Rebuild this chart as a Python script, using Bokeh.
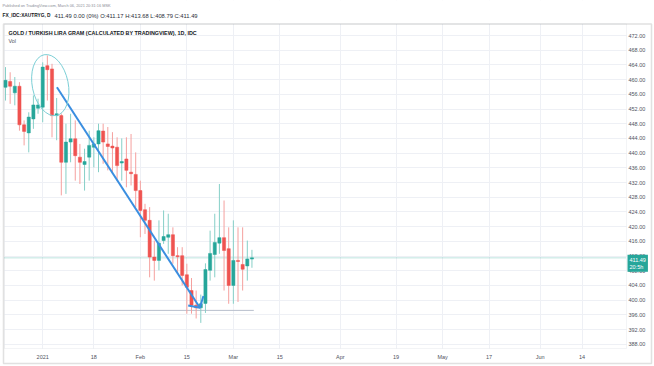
import pandas as pd
from bokeh.plotting import figure
from bokeh.models import (Range1d, FixedTicker, PrintfTickFormatter, Label,
                          ColumnDataSource, BoxAnnotation)
from bokeh.embed import file_html
from bokeh.resources import INLINE

# ---------------- data ----------------
first_date = "2020-12-22"
opens = [457.9, 459.5, 456.4, 458.2, 447.7, 445.5, 449.3, 452.2, 452.5, 463.8,
         462.9, 450.2, 450.2, 437.5, 443.0, 443.9, 438.9, 436.9, 438.9, 441.6,
         442.5, 446.0, 442.5, 441.9, 441.6, 437.3, 438.4, 434.8, 434.2, 429.8,
         424.6, 421.7, 411.7, 410.8, 416.2, 417.1, 417.8, 412.1, 412.1, 406.9,
         402.6, 398.6, 397.9, 399.1, 408.1, 412.4, 415.5, 417.0, 414.0, 404.0,
         410.8, 409.7, 409.3, 411.17]
highs = [463.4, 462.0, 460.7, 459.3, 448.9, 451.1, 455.7, 454.8, 464.7, 466.6,
         464.3, 455.0, 450.8, 448.0, 450.7, 448.9, 442.5, 441.2, 446.1, 444.3,
         448.0, 448.0, 447.1, 445.7, 444.3, 444.0, 444.3, 445.2, 440.2, 432.5,
         426.2, 425.3, 416.2, 421.7, 424.4, 423.5, 419.8, 414.4, 414.4, 409.9,
         406.0, 402.6, 401.5, 410.0, 418.9, 423.5, 431.6, 427.1, 419.8, 421.7,
         419.8, 419.8, 416.2, 413.68]
lows = [454.3, 453.4, 453.0, 446.1, 442.1, 440.2, 446.6, 450.7, 448.4, 454.3,
        444.3, 443.5, 428.5, 428.9, 437.5, 432.5, 431.6, 429.8, 432.5, 436.1,
        434.8, 437.1, 435.3, 434.4, 432.5, 432.5, 430.7, 431.2, 425.3, 417.1,
        418.0, 406.2, 405.3, 408.1, 415.3, 412.6, 409.9, 407.2, 404.0, 396.3,
        396.3, 395.0, 393.8, 396.5, 405.3, 406.2, 412.6, 402.6, 399.0, 399.0,
        399.5, 402.6, 405.3, 408.79]
closes = [459.8, 458.2, 458.2, 447.7, 445.9, 449.8, 453.1, 453.1, 463.4, 462.7,
          450.2, 450.7, 437.5, 443.0, 443.9, 439.3, 437.5, 437.7, 442.1, 442.5,
          446.1, 443.0, 441.8, 441.4, 436.6, 437.7, 435.3, 434.4, 429.8, 424.4,
          421.7, 411.7, 410.8, 415.5, 417.3, 417.8, 412.1, 411.9, 406.7, 403.5,
          398.6, 397.9, 399.0, 408.3, 412.7, 415.7, 417.0, 413.5, 404.0, 410.8,
          410.5, 408.4, 411.2, 411.49]

tick_dates = ["2021-01-01", "2021-01-18", "2021-02-01", "2021-02-15", "2021-03-01",
              "2021-03-15", "2021-04-01", "2021-04-19", "2021-05-03", "2021-05-17",
              "2021-06-01", "2021-06-14"]
tick_labels = ["2021", "18", "Feb", "15", "Mar", "15", "Apr", "19", "May", "17", "Jun", "14"]
price_ticks = list(range(388, 473, 4))

last_price = 411.49
countdown = "20:5h"
header1 = "Published on TradingView.com, March 06, 2021 20:31:16 MSK"
header2_bold = "FX_IDC:XAUTRYG, D"
header2_rest = "411.49 0.00 (0%) O:411.17 H:413.68 L:408.79 C:411.49"
legend_title = "GOLD / TURKISH LIRA GRAM (CALCULATED BY TRADINGVIEW), 1D, IDC"
legend_sub = "Vol"

# drawings (bar index, price)
trend_x = [11.06, 41.81]
trend_y = [457.93, 397.90]
hook_x = [39.29, 41.81, 42.56]
hook_y = [398.53, 397.90, 401.12]
circle_x, circle_y = 9.63, 458.5
hline_x = [20.0, 53.4]
hline_y = [397.2, 397.2]

# ---------------- layout geometry (pixels of the 654x366 canvas) ----------------
W, H = 654, 366
PX_BAR, PX_UNIT = 4.65, 3.675
X0 = -5 / PX_BAR
X1 = X0 + W / PX_BAR
Y1 = 472 + 35 / PX_UNIT
Y0 = Y1 - H / PX_UNIT


def gx(px):
    return X0 + px / PX_BAR


def gy(py):
    return Y1 - py / PX_UNIT


PANE_L, PANE_R, PANE_T, PANE_B = 4, 626, 23.5, 348
BOX_R, BOX_B = 651, 363

days = pd.bdate_range(first_date, "2021-07-30")
n = len(opens)
idx = list(range(n))
up = [c >= o for o, c in zip(opens, closes)]
body_top = [max(o, c) for o, c in zip(opens, closes)]
body_bot = [min(o, c) for o, c in zip(opens, closes)]
body_bot = [b if t - b > 0.3 else t - 0.3 for t, b in zip(body_top, body_bot)]
UP, DOWN = "#26a69a", "#ef5350"
src = ColumnDataSource(dict(
    x=idx, o=opens, h=highs, l=lows, c=closes, top=body_top, bot=body_bot,
    col=[UP if u else DOWN for u in up],
    wcol=["#86cfc7" if u else "#f5a09e" for u in up],
))

tick_idx = [int(days.get_loc(pd.Timestamp(d))) for d in tick_dates]

p = figure(width=W, height=H, output_backend="svg", toolbar_location=None, tools="",
           x_range=Range1d(X0, X1), y_range=Range1d(Y0, Y1),
           y_axis_location="right",
           min_border_top=0, min_border_left=0, min_border_right=0, min_border_bottom=0,
           background_fill_color="white", border_fill_color="white",
           outline_line_color=None)

FONT = "Liberation Sans"
for ax in (p.xaxis[0], p.yaxis[0]):
    ax.axis_line_color = None
    ax.major_tick_line_color = None
    ax.minor_tick_line_color = None
    ax.major_tick_out = 0
    ax.major_tick_in = 0
    ax.major_label_text_font = FONT
    ax.major_label_text_font_size = "5.5px"
    ax.major_label_text_color = "#50535e"
p.yaxis.ticker = FixedTicker(ticks=price_ticks)
p.yaxis.formatter = PrintfTickFormatter(format="%.2f")
p.yaxis.major_label_standoff = -26
p.xaxis.ticker = FixedTicker(ticks=tick_idx)
p.xaxis.major_label_overrides = {i: lab for i, lab in zip(tick_idx, tick_labels)}
p.xaxis.major_label_standoff = -13
p.xgrid.grid_line_color = "#eef0f5"
p.ygrid.grid_line_color = "#eef0f5"

# white covers so that grid lines stay inside the chart pane
for kw in (dict(bottom=gy(PANE_T)),
           dict(top=gy(PANE_B)),
           dict(left=gx(PANE_R)),
           dict(right=gx(PANE_L))):
    p.add_layout(BoxAnnotation(fill_color="white", fill_alpha=1.0, line_color=None,
                               level="underlay", **kw))

# pane separators and outer frame
p.add_layout(BoxAnnotation(left=gx(PANE_L), right=gx(PANE_R), top=gy(PANE_T),
                           bottom=gy(PANE_B), fill_color=None, fill_alpha=0,
                           line_color="#d6d9e0", line_width=1, level="underlay"))
p.add_layout(BoxAnnotation(left=gx(3), right=gx(BOX_R), top=gy(PANE_T),
                           bottom=gy(BOX_B), fill_color=None, fill_alpha=0,
                           line_color="#9a9a9a", line_width=1.5))

# last-price line
p.segment(x0=[gx(PANE_L)], y0=[last_price], x1=[gx(PANE_R)], y1=[last_price],
          line_color=UP, line_dash="1 1", line_alpha=0.6, line_width=1)

p.line(hline_x, hline_y, line_color="#b8bfcc", line_width=1)

p.segment(x0="x", y0="l", x1="x", y1="h", color="wcol", line_width=1, source=src)
p.vbar(x="x", width=0.68, top="top", bottom="bot", fill_color="col", line_color="col",
       line_width=0.5, source=src)

p.line(trend_x, trend_y, line_color="#3a8ee0", line_width=2)
p.line(hook_x, hook_y, line_color="#3a8ee0", line_width=2)
p.ellipse(x=[circle_x], y=[circle_y], width=36, height=62, width_units="screen",
          height_units="screen", angle=0.2, fill_color=None, line_color="#7ccfd6",
          line_width=1)


# texts
def lab(x, y, text, size, color, bold=False, **kw):
    p.add_layout(Label(x=x, y=y, text=text, text_font=FONT, text_font_size=size,
                       text_color=color, text_font_style="bold" if bold else "normal",
                       **kw))


lab(gx(2), gy(5), header1, "3.9px", "#8a8d96", text_baseline="middle")
lab(gx(2), gy(15), header2_bold, "4.8px", "#131722", bold=True, text_baseline="middle")
lab(gx(54), gy(15), header2_rest, "5.8px", "#2a2e39", text_baseline="middle")
lab(gx(8), gy(32), legend_title, "5.4px", "#131722", bold=True, text_baseline="middle")
lab(gx(8), gy(40), legend_sub, "5.4px", "#50535e", text_baseline="middle")
lab(gx(627), last_price, f"{last_price:.2f}\n{countdown}", "5.5px", "white",
    text_baseline="top", text_line_height=1.15, y_offset=3,
    background_fill_color=UP, padding=2)

open("out.html", "w").write(file_html(p, INLINE))
